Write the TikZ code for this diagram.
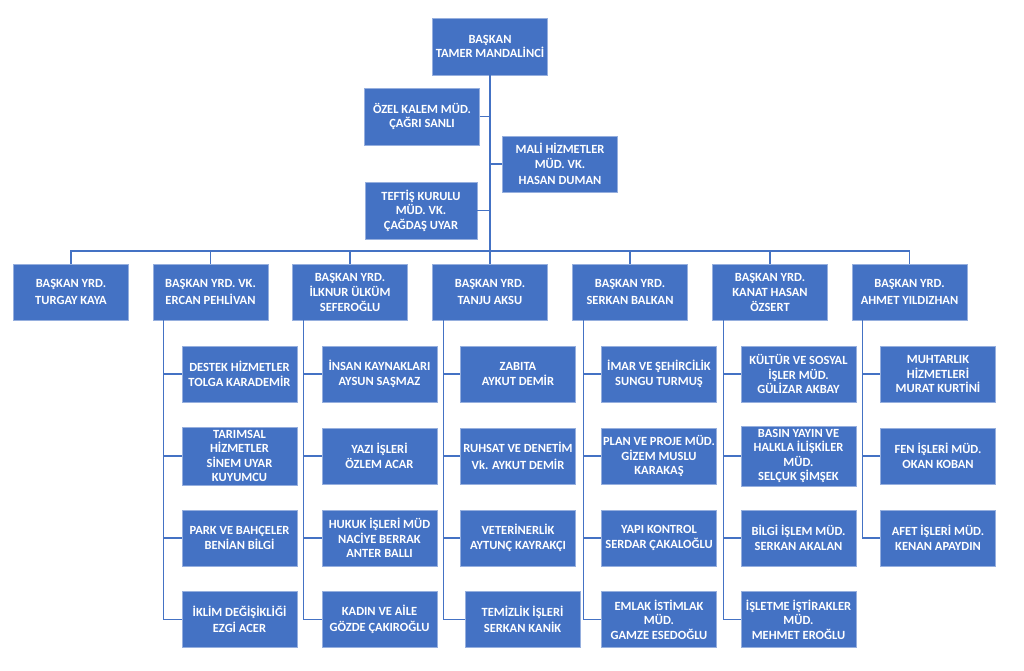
\documentclass[tikz,border=0pt]{standalone}
\usepackage{fontspec}
\setmainfont{Carlito}
\usepackage{xcolor}
\usepackage{tikz}
\usetikzlibrary{positioning}
\definecolor{OrgBlue}{RGB}{68, 114, 196}
\definecolor{OrgEdge}{RGB}{150, 175, 222}

\begin{document}
\begin{tikzpicture}[
    x=1pt, y=-1pt,
    box/.style={rectangle, draw=OrgEdge, line width=0.4pt, fill=OrgBlue, text=white, minimum width=115pt, minimum height=56pt, inner xsep=1pt, align=center, font=\fontsize{12.5}{14.5}\selectfont\bfseries},
    line/.style={draw=OrgBlue, line width=1.1pt}
]
    \useasboundingbox (0,0) rectangle (1024,671);
    % Top: president and staff units
    \node[box, minimum height=57pt] (baskan) at (490, 46.5) {BAŞKAN\\TAMER MANDALİNCİ};
    \node[box, minimum height=57pt] (ozel) at (422, 116.5) {ÖZEL KALEM MÜD.\\ÇAĞRI SANLI};
    \node[box] (mali) at (560, 164) {MALİ HİZMETLER\\MÜD. VK.\\[2pt]HASAN DUMAN};
    \node[box, minimum width=112pt, minimum height=57pt] (teftis) at (421, 210.5) {TEFTİŞ KURULU\\MÜD. VK.\\ÇAĞDAŞ UYAR};
    \coordinate (bus) at (490, 251);
    % Row 2: vice presidents
    \node[box] (turgay) at (71, 292) {BAŞKAN YRD.\\[2pt]TURGAY KAYA};
    \node[box] (ercan) at (210.5, 292) {BAŞKAN YRD. VK.\\[2pt]ERCAN PEHLİVAN};
    \node[box] (ilknur) at (350, 292) {BAŞKAN YRD.\\[1pt]İLKNUR ÜLKÜM\\SEFEROĞLU};
    \node[box] (tanju) at (490, 292) {BAŞKAN YRD.\\[2pt]TANJU AKSU};
    \node[box] (serkan) at (630, 292) {BAŞKAN YRD.\\[2pt]SERKAN BALKAN};
    \node[box] (kanat) at (770, 292) {BAŞKAN YRD.\\[1pt]KANAT HASAN\\ÖZSERT};
    \node[box] (ahmet) at (909.5, 292) {BAŞKAN YRD.\\[2pt]AHMET YILDIZHAN};
    % Row 3+: directorates
    \node[box] (destek) at (239.5, 374) {DESTEK HİZMETLER\\[1pt]TOLGA KARADEMİR};
    \node[box] (tarim) at (239.5, 456) {TARIMSAL\\HİZMETLER\\SİNEM UYAR\\KUYUMCU};
    \node[box] (park) at (239.5, 538) {PARK VE BAHÇELER\\[1pt]BENİAN BİLGİ};
    \node[box] (iklim) at (239.5, 619.5) {İKLİM DEĞİŞİKLİĞİ\\[1pt]EZGİ ACER};
    \node[box] (insan) at (379.5, 374) {İNSAN KAYNAKLARI\\[1pt]AYSUN SAŞMAZ};
    \node[box] (yazi) at (379.5, 456) {YAZI İŞLERİ\\[1pt]ÖZLEM ACAR};
    \node[box] (hukuk) at (379.5, 538) {HUKUK İŞLERİ MÜD\\NACİYE BERRAK\\ANTER BALLI};
    \node[box] (kadin) at (379.5, 619.5) {KADIN VE AİLE\\[1pt]GÖZDE ÇAKIROĞLU};
    \node[box] (zabita) at (518, 374) {ZABITA\\[1pt]AYKUT DEMİR};
    \node[box] (ruhsat) at (518, 456) {RUHSAT VE DENETİM\\[3pt]Vk. AYKUT DEMİR};
    \node[box] (veteriner) at (518, 538) {VETERİNERLİK\\[1pt]AYTUNÇ KAYRAKÇI};
    \node[box] (temizlik) at (522.5, 619.5) {TEMİZLİK İŞLERİ\\[1pt]SERKAN KANİK};
    \node[box] (imar) at (659, 374) {İMAR VE ŞEHİRCİLİK\\[1pt]SUNGU TURMUŞ};
    \node[box] (plan) at (659, 456) {PLAN VE PROJE MÜD.\\GİZEM MUSLU\\KARAKAŞ};
    \node[box] (yapi) at (659, 538) {YAPI KONTROL\\[1pt]SERDAR ÇAKALOĞLU};
    \node[box] (emlak) at (659, 619.5) {EMLAK İSTİMLAK\\MÜD.\\GAMZE ESEDOĞLU};
    \node[box] (kultur) at (798.5, 374) {KÜLTÜR VE SOSYAL\\İŞLER MÜD.\\GÜLİZAR AKBAY};
    \node[box] (basin) at (798.5, 456) {BASIN YAYIN VE\\HALKLA İLİŞKİLER\\MÜD.\\SELÇUK ŞİMŞEK};
    \node[box] (bilgi) at (798.5, 538) {BİLGİ İŞLEM MÜD.\\[1pt]SERKAN AKALAN};
    \node[box] (isletme) at (798.5, 619.5) {İŞLETME İŞTİRAKLER\\MÜD.\\MEHMET EROĞLU};
    \node[box] (muhtar) at (938, 374) {MUHTARLIK\\HİZMETLERİ\\MURAT KURTİNİ};
    \node[box] (fen) at (938, 456) {FEN İŞLERİ MÜD.\\[1pt]OKAN KOBAN};
    \node[box] (afet) at (938, 538) {AFET İŞLERİ MÜD.\\[1pt]KENAN APAYDIN};
    % Connectors
    \draw[line] (baskan.south) -- (bus);
    \foreach \s in {ozel, mali, teftis} { \draw[line] (\s) -- (\s -| baskan.south); }
    \foreach \v in {turgay, ercan, ilknur, tanju, serkan, kanat, ahmet} { \draw[line] (bus) -| (\v.north); }
    \foreach \c in {destek, tarim, park, iklim} { \draw[line] ([xshift=11]ercan.south west) |- (\c.west); }
    \foreach \c in {insan, yazi, hukuk, kadin} { \draw[line] ([xshift=11]ilknur.south west) |- (\c.west); }
    \foreach \c in {zabita, ruhsat, veteriner, temizlik} { \draw[line] ([xshift=11]tanju.south west) |- (\c.west); }
    \foreach \c in {imar, plan, yapi, emlak} { \draw[line] ([xshift=11]serkan.south west) |- (\c.west); }
    \foreach \c in {kultur, basin, bilgi, isletme} { \draw[line] ([xshift=11]kanat.south west) |- (\c.west); }
    \foreach \c in {muhtar, fen, afet} { \draw[line] ([xshift=11]ahmet.south west) |- (\c.west); }
\end{tikzpicture}
\end{document}
